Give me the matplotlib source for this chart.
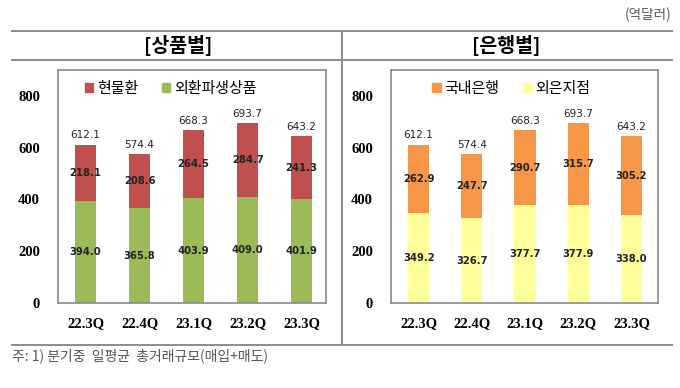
import matplotlib
matplotlib.use("Agg")
import matplotlib.pyplot as plt
import numpy as np
from matplotlib.lines import Line2D
from matplotlib.patches import Patch

plt.rcParams['font.family'] = ['Noto Sans CJK KR', 'DejaVu Sans']

# data (억달러)
quarters = ['22.3Q', '22.4Q', '23.1Q', '23.2Q', '23.3Q']
totals = [612.1, 574.4, 668.3, 693.7, 643.2]

spot = [218.1, 208.6, 264.5, 284.7, 241.3]          # 현물환
derivatives = [394.0, 365.8, 403.9, 409.0, 401.9]   # 외환파생상품

domestic = [262.9, 247.7, 290.7, 315.7, 305.2]      # 국내은행
foreign = [349.2, 326.7, 377.7, 377.9, 338.0]       # 외은지점

W, H = 680, 388
fig = plt.figure(figsize=(6.8, 3.88), dpi=100)


def fx(px):
    return px / W


def fy(py):
    return 1 - py / H


# frame lines
line_col = '#8c8c8c'
for y in (31, 60, 345):
    fig.add_artist(Line2D([fx(12), fx(672)], [fy(y), fy(y)], color=line_col, lw=1.4))
fig.add_artist(Line2D([fx(342), fx(342)], [fy(31), fy(345)], color=line_col, lw=1.4))

fig.text(fx(672), fy(15), '(역달러)', ha='right', va='center', fontsize=9.8, color='#555555')
fig.text(fx(178), fy(46), '[상품별]', ha='center', va='center', fontsize=14, fontweight='bold')
fig.text(fx(506), fy(46), '[은행별]', ha='center', va='center', fontsize=14, fontweight='bold')
fig.text(fx(12), fy(356), '주: 1) 분기중  일평균  총거래규모(매입+매도)', ha='left', va='center',
         fontsize=10, color='#555555')


def panel(rect, bottom, top, names, colors, xlim, leg_x, colspace):
    ax = fig.add_axes(rect)
    x = np.arange(len(quarters))
    ax.bar(x, bottom, width=0.4, color=colors[1])
    ax.bar(x, top, width=0.4, bottom=bottom, color=colors[0])
    for i in range(len(x)):
        ax.text(x[i], bottom[i] / 2, f'{bottom[i]:.1f}', ha='center', va='center',
                fontsize=7.2, fontweight='bold', color='#222222', family='DejaVu Sans')
        ax.text(x[i], bottom[i] + top[i] / 2, f'{top[i]:.1f}', ha='center', va='center',
                fontsize=7.2, fontweight='bold', color='#222222', family='DejaVu Sans')
        ax.text(x[i], totals[i] + 16, f'{totals[i]:.1f}', ha='center', va='bottom',
                fontsize=7.5, color='#222222', family='DejaVu Sans')
    ax.set_ylim(0, 900)
    ax.set_xlim(*xlim)
    ax.set_yticks(range(0, 801, 200))
    ax.set_xticks(x)
    ax.set_xticklabels(quarters)
    for lab in ax.get_xticklabels() + ax.get_yticklabels():
        lab.set_family('Liberation Serif')
        lab.set_fontweight('bold')
        lab.set_fontsize(10.5)
    ax.tick_params(length=0, pad=13, axis='y')
    ax.tick_params(length=0, pad=10, axis='x')
    for s in ax.spines.values():
        s.set_color('#8a8a8a')
        s.set_linewidth(1.2)
    handles = [Patch(color=colors[0]), Patch(color=colors[1])]
    ax.legend(handles, names, loc='center left', ncol=2, frameon=False, fontsize=10.8,
              handlelength=0.55, handleheight=0.55, handletextpad=0.25, columnspacing=colspace,
              bbox_to_anchor=(leg_x, 1 - 19 / 233), borderaxespad=0, borderpad=0)
    return ax


panel([fx(58), fy(303), fx(268), (303 - 70) / H], derivatives, spot,
      ['현물환', '외환파생상품'], ['#C0504D', '#9BBB59'], (-0.51, 4.45), 0.1, 1.6)
panel([fx(391), fy(303), fx(267), (303 - 70) / H], foreign, domestic,
      ['국내은행', '외은지점'], ['#F79646', '#FFFF99'], (-0.52, 4.5), 0.155, 1.6)

fig.savefig('out.png', dpi=100)
